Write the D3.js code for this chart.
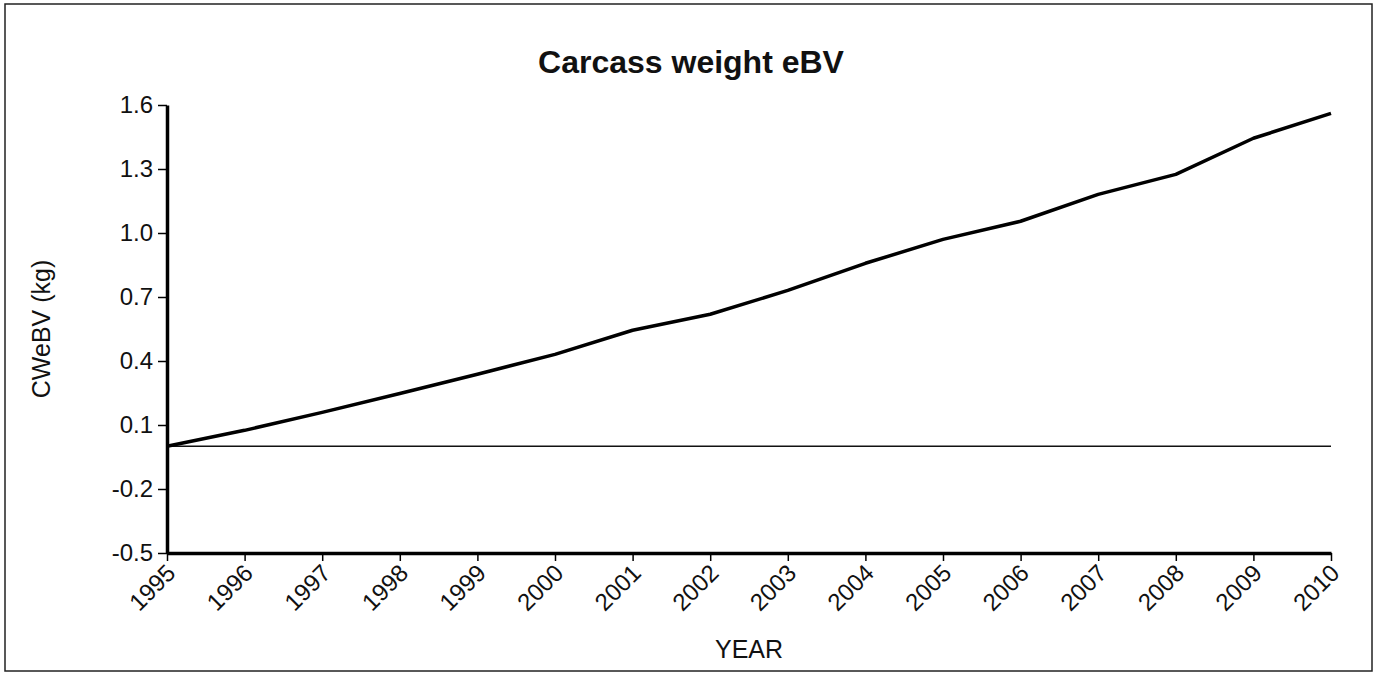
<!DOCTYPE html>
<html>
<head>
<meta charset="utf-8">
<script src="https://cdn.jsdelivr.net/npm/d3@7"></script>
<style>
  body { margin: 0; background: #fff; }
  svg { display: block; font-family: "Liberation Sans", Arial, sans-serif; }
</style>
</head>
<body>
<svg id="chart" width="1382" height="675"></svg>
<script>
const years = [1995, 1996, 1997, 1998, 1999, 2000, 2001, 2002, 2003, 2004, 2005, 2006, 2007, 2008, 2009, 2010];
const cweBV = [0, 0.075, 0.159, 0.248, 0.338, 0.431, 0.544, 0.619, 0.731, 0.858, 0.970, 1.055, 1.181, 1.275, 1.444, 1.561];
const yTicks = [-0.5, -0.2, 0.1, 0.4, 0.7, 1.0, 1.3, 1.6];
const title = "Carcass weight eBV";
const xTitle = "YEAR";
const yTitle = "CWeBV (kg)";

const svg = d3.select("#chart");
const W = 1382, H = 675;
const m = { left: 167, right: 1331, top: 105, bottom: 553 };

svg.append("rect").attr("x", 5).attr("y", 4).attr("width", 1367).attr("height", 667)
  .attr("fill", "none").attr("stroke", "#222").attr("stroke-width", 1.5);

const x = d3.scaleLinear().domain([1995, 2010]).range([m.left, m.right]);
const y = d3.scaleLinear().domain([-0.5, 1.6]).range([m.bottom, m.top]);

// zero reference line
svg.append("line")
  .attr("x1", x(1995)).attr("x2", x(2010))
  .attr("y1", y(0)).attr("y2", y(0))
  .attr("stroke", "#111").attr("stroke-width", 1.5);

// data line
svg.append("path")
  .datum(years.map((yr, i) => [yr, cweBV[i]]))
  .attr("fill", "none").attr("stroke", "#000").attr("stroke-width", 3.5)
  .attr("stroke-linejoin", "round")
  .attr("d", d3.line().x(d => x(d[0])).y(d => y(d[1])));

// Y axis
const yAxis = svg.append("g").attr("transform", `translate(${m.left},0)`)
  .call(d3.axisLeft(y).tickValues(yTicks).tickFormat(d => d.toFixed(1)).tickSizeInner(9).tickSizeOuter(0).tickPadding(5));
yAxis.select(".domain").attr("stroke", "#000").attr("stroke-width", 3.5);
yAxis.selectAll(".tick line").attr("stroke", "#000").attr("stroke-width", 1.5);
yAxis.selectAll(".tick text").attr("font-size", 24).attr("fill", "#111")
  .attr("font-family", "Liberation Sans, Arial, sans-serif");

// X axis
const xAxis = svg.append("g").attr("transform", `translate(0,${m.bottom})`)
  .call(d3.axisBottom(x).tickValues(years).tickFormat(d3.format("d")).tickSizeInner(8).tickSizeOuter(0));
xAxis.select(".domain").attr("stroke", "#000").attr("stroke-width", 3.5);
xAxis.selectAll(".tick line").attr("stroke", "#000").attr("stroke-width", 1.5);
xAxis.selectAll(".tick text")
  .attr("font-size", 24).attr("fill", "#111")
  .attr("font-family", "Liberation Sans, Arial, sans-serif")
  .attr("text-anchor", "end")
  .attr("dy", null).attr("y", null)
  .attr("transform", "translate(-3,9) rotate(-45)")
  .attr("dominant-baseline", "hanging");

// Titles
svg.append("text").attr("x", W / 2).attr("y", 73)
  .attr("text-anchor", "middle").attr("font-size", 32).attr("font-weight", "bold").attr("fill", "#111")
  .text(title);
svg.append("text").attr("x", (m.left + m.right) / 2).attr("y", 658)
  .attr("text-anchor", "middle").attr("font-size", 25).attr("fill", "#111")
  .text(xTitle);
svg.append("text")
  .attr("transform", `translate(50,${(m.top + m.bottom) / 2}) rotate(-90)`)
  .attr("text-anchor", "middle").attr("font-size", 25).attr("fill", "#111")
  .text(yTitle);
</script>
</body>
</html>
